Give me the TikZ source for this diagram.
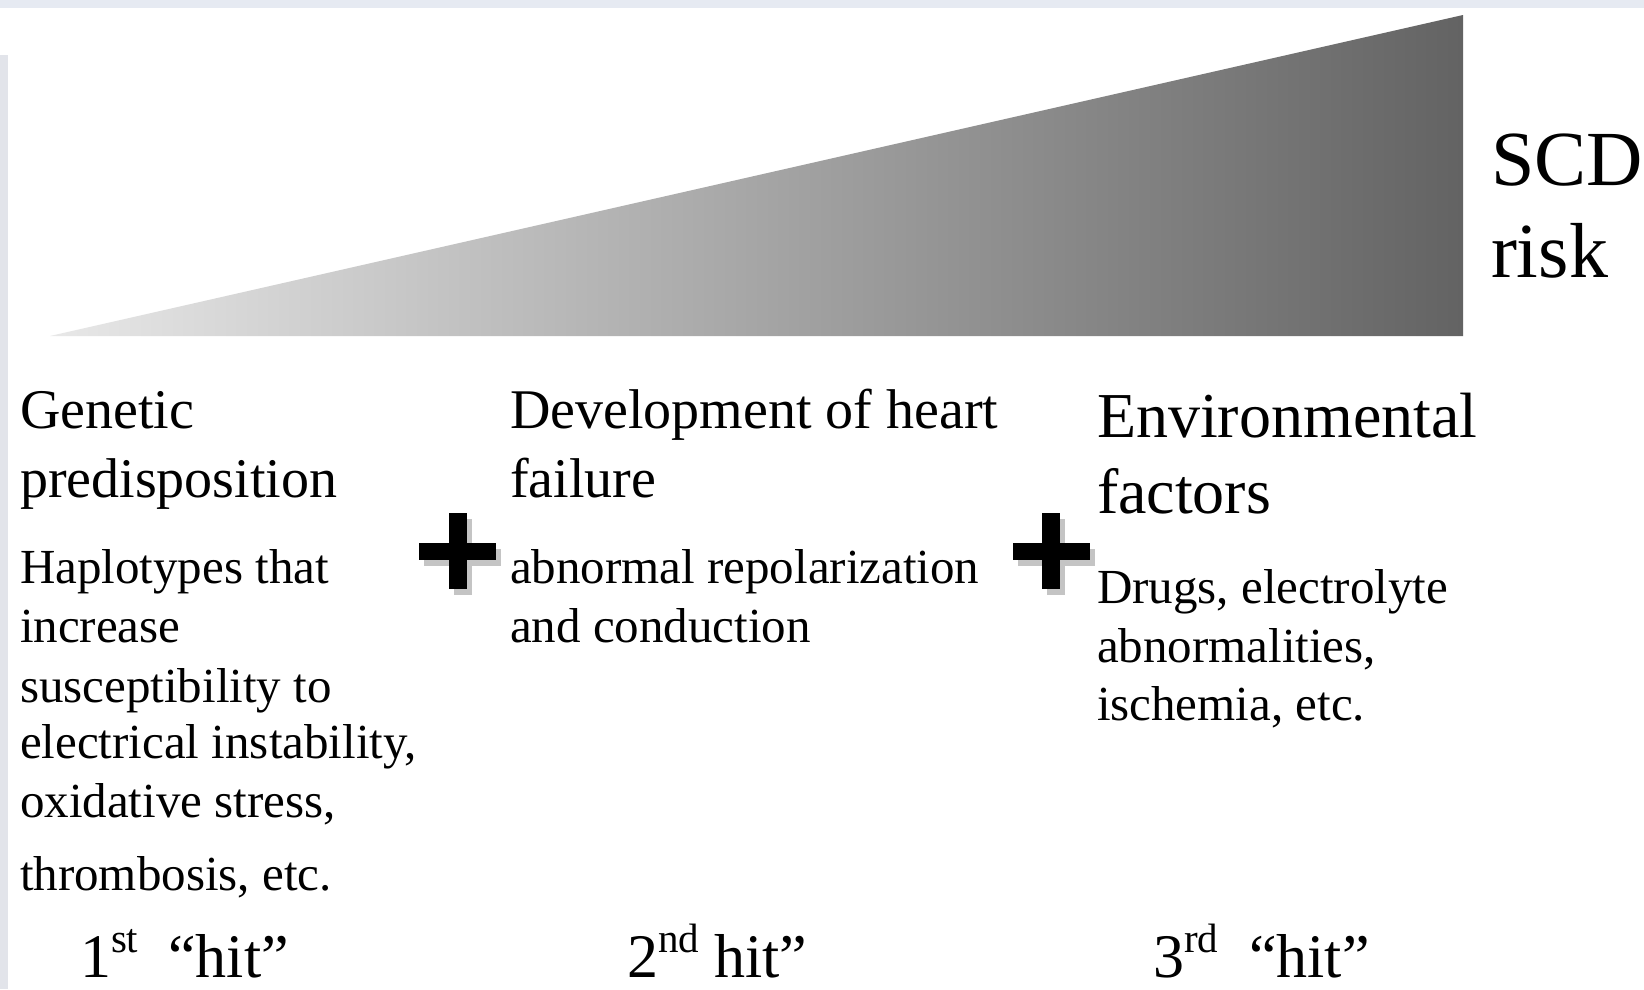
\documentclass[tikz,border=0pt]{standalone}
\usepackage{fontspec}
\setmainfont{Liberation Serif}
\definecolor{stripbg}{HTML}{E6EAF2}
\definecolor{sideBg}{HTML}{E2E4EA}
\definecolor{gradL}{HTML}{E8E8E8}
\definecolor{gradR}{HTML}{636363}
\definecolor{plusShadow}{HTML}{C4C4C4}
\newcommand{\supr}[1]{\raisebox{0.4em}{\fontsize{41}{41}\selectfont #1}}
\begin{document}
\begin{tikzpicture}[x=1pt,y=-1pt,
  txt/.style={anchor=base west,inner sep=0pt,outer sep=0pt},
  head/.style={txt,font=\fontsize{56}{67}\selectfont},
  headbig/.style={txt,font=\fontsize{64}{76}\selectfont},
  body/.style={txt,font=\fontsize{49}{58}\selectfont},
  hit/.style={txt,font=\fontsize{62}{70}\selectfont},
  risk/.style={txt,font=\fontsize{78}{90}\selectfont},
  plusbar/.style={fill=black},
  plusshadow/.style={fill=plusShadow}]
\useasboundingbox (0,0) rectangle (1644,989);
\fill[white] (0,0) rectangle (1644,989);
\fill[stripbg] (0,0) rectangle (1644,8);
\fill[sideBg] (0,55) rectangle (8,989);
% risk wedge
\coordinate (tipL) at (50,336);
\coordinate (tipTR) at (1463,15);
\coordinate (tipBR) at (1463,336);
\shade[left color=gradL,right color=gradR] (tipL) -- (tipTR) -- (tipBR) -- cycle;
\node[risk] (scd) at (1491,185) {SCD};
\node[risk] (riskw) at (1491,277) {risk};
% column 1
\node[head] (g1) at (20,428) {Genetic};
\node[head] (g2) at (20,497) {predisposition};
\node[body] (b1) at (20,583) {Haplotypes that};
\node[body] (b2) at (20,642) {increase};
\node[body] (b3) at (20,702) {susceptibility to};
\node[body] (b4) at (20,758) {electrical instability,};
\node[body] (b5) at (20,817) {oxidative stress,};
\node[body] (b6) at (20,890) {thrombosis, etc.};
% column 2
\node[head] (d1) at (510,428) {Development of heart};
\node[head] (d2) at (510,497) {failure};
\node[body] (a1) at (510,583) {abnormal repolarization};
\node[body] (a2) at (510,642) {and conduction};
% column 3
\node[headbig] (e1) at (1097,437) {Environmental};
\node[headbig] (e2) at (1097,513) {factors};
\node[body] (r1) at (1097,603) {Drugs, electrolyte};
\node[body] (r2) at (1097,662) {abnormalities,};
\node[body] (r3) at (1097,720) {ischemia, etc.};
% hits
\node[hit] (h1) at (80,977) {1\supr{st}\hspace{30pt}“hit”};
\node[hit] (h2) at (627,977) {2\supr{nd}\hspace{15pt}hit”};
\node[hit] (h3) at (1153,977) {3\supr{rd}\hspace{31pt}“hit”};
% plus signs
\coordinate (p1) at (457.5,551);
\coordinate (p2) at (1051,551);
\foreach \c in {p1,p2}{
  \fill[plusshadow] ([shift={(-38.5+5,-8.5+6)}]\c) rectangle ([shift={(38.5+5,8.5+6)}]\c);
  \fill[plusshadow] ([shift={(-9+5,-38+6)}]\c) rectangle ([shift={(9+5,38+6)}]\c);
  \fill[plusbar] ([shift={(-38.5,-8.5)}]\c) rectangle ([shift={(38.5,8.5)}]\c);
  \fill[plusbar] ([shift={(-9,-38)}]\c) rectangle ([shift={(9,38)}]\c);
}
\end{tikzpicture}
\end{document}
